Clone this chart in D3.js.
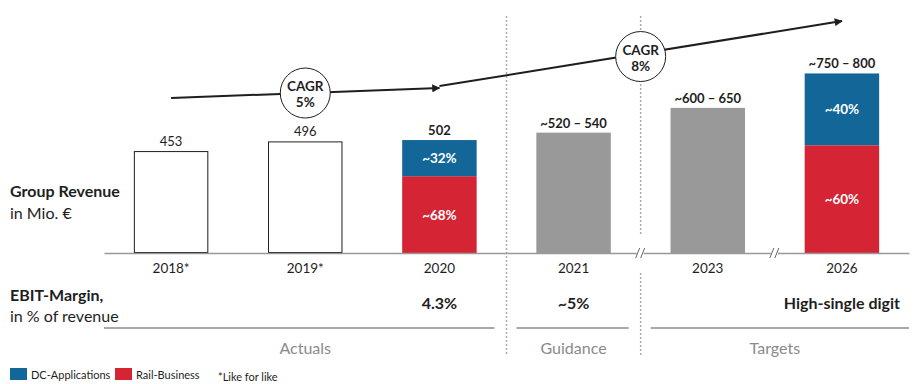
<!DOCTYPE html>
<html>
<head>
<meta charset="utf-8">
<script src="https://cdn.jsdelivr.net/npm/d3@7"></script>
<style>
  body { margin: 0; background: #fff; }
  svg { display: block; font-family: Lato, "Open Sans", sans-serif; }
</style>
</head>
<body>
<svg id="chart" width="915" height="384"></svg>
<script>
// data
var categories  = [ '2018*', '2019*', '2020', '2021', '2023', '2026' ];
var totals      = [ 453, 496, 502, 535, 645, 798 ];
var totalLabels = [ '453', '496', '502', '~520 – 540', '~600 – 650', '~750 – 800' ];
var labelBold   = [ false, false, true, true, true, true ];
var barKind     = [ 'outline', 'outline', 'split', 'gray', 'gray', 'split' ];
var dcShare     = [ 0, 0, 0.32, 0, 0, 0.40 ];
var railShare   = [ 0, 0, 0.68, 0, 0, 0.60 ];
var ebitLabels  = [ '', '', '4.3%', '~5%', '', 'High-single digit' ];

var sections    = [ 'Actuals', 'Guidance', 'Targets' ];
var sectionFrom = [ 0, 3, 4 ];
var sectionTo   = [ 2, 3, 5 ];
var breakAfter  = [ 3, 4 ];          // axis break between this and next category

// trend arrows, in revenue units
var trendFrom   = [ [ '2018*', 689 ], [ '2020', 742 ] ];
var trendTo     = [ [ '2020', 733 ], [ '2026', 1031 ] ];
var cagrLabels  = [ '5%', '8%' ];
var cagrAt      = [ 1, 3.5 ];        // category position (index) of the circle

var colors = { dc: '#136798', rail: '#d52535', gray: '#999999', ink: '#1e1e1e', soft: '#8a8a8a' };

var svg = d3.select( '#chart' );

var x = d3.scaleBand()
	.domain( categories )
	.range( [ 104, 909 ] )
	.paddingInner( 0.445 )
	.paddingOuter( 0.2225 );

var y = d3.scaleLinear()
	.domain( [ 0, 1000 ] )
	.range( [ 253, 28 ] );

var cx = function( i ) { return x( categories[ i ] ) + x.bandwidth() / 2; };
var xAt = function( pos ) {
	var lo = Math.floor( pos ), hi = Math.ceil( pos );
	return cx( lo ) + ( cx( hi ) - cx( lo ) ) * ( pos - lo );
};
var sepX = function( i ) { return ( cx( i ) + cx( i + 1 ) ) / 2; };

// separators between actuals / guidance / targets
var seps = [ sepX( 2 ), sepX( 3 ) ];
seps.forEach( function( sx, k ) {
	var segs = k === 1 ? [ [ 16, 235 ], [ 273, 356 ] ] : [ [ 16, 356 ] ];
	segs.forEach( function( s ) {
		svg.append( 'line' )
			.attr( 'x1', sx ).attr( 'x2', sx )
			.attr( 'y1', s[ 0 ] ).attr( 'y2', s[ 1 ] )
			.attr( 'stroke', '#aaa' )
			.attr( 'stroke-width', 1.5 )
			.attr( 'stroke-dasharray', '2,2' );
	} );
} );

// bars
var bars = svg.append( 'g' );
categories.forEach( function( c, i ) {
	var x0 = x( c ), w = x.bandwidth();
	if ( barKind[ i ] === 'outline' ) {
		bars.append( 'rect' )
			.attr( 'x', x0 + 0.5 ).attr( 'y', y( totals[ i ] ) + 0.5 )
			.attr( 'width', w - 1 ).attr( 'height', y( 0 ) - y( totals[ i ] ) - 1 )
			.attr( 'fill', '#fff' ).attr( 'stroke', colors.ink ).attr( 'stroke-width', 1 );
	}
	else if ( barKind[ i ] === 'gray' ) {
		bars.append( 'rect' )
			.attr( 'x', x0 ).attr( 'y', y( totals[ i ] ) )
			.attr( 'width', w ).attr( 'height', y( 0 ) - y( totals[ i ] ) )
			.attr( 'fill', colors.gray );
	}
	else {
		var railTop = totals[ i ] * railShare[ i ];
		bars.append( 'rect' )
			.attr( 'x', x0 ).attr( 'y', y( railTop ) )
			.attr( 'width', w ).attr( 'height', y( 0 ) - y( railTop ) )
			.attr( 'fill', colors.rail );
		bars.append( 'rect' )
			.attr( 'x', x0 ).attr( 'y', y( totals[ i ] ) )
			.attr( 'width', w ).attr( 'height', y( railTop ) - y( totals[ i ] ) )
			.attr( 'fill', colors.dc );
		bars.append( 'text' )
			.attr( 'x', cx( i ) ).attr( 'y', ( y( railTop ) + y( totals[ i ] ) ) / 2 + 5 )
			.attr( 'text-anchor', 'middle' ).attr( 'fill', '#fff' )
			.attr( 'font-size', 13.5 ).attr( 'font-weight', 'bold' )
			.text( '~' + Math.round( dcShare[ i ] * 100 ) + '%' );
		bars.append( 'text' )
			.attr( 'x', cx( i ) ).attr( 'y', ( y( 0 ) + y( railTop ) ) / 2 + 5 )
			.attr( 'text-anchor', 'middle' ).attr( 'fill', '#fff' )
			.attr( 'font-size', 13.5 ).attr( 'font-weight', 'bold' )
			.text( '~' + Math.round( railShare[ i ] * 100 ) + '%' );
	}
	bars.append( 'text' )
		.attr( 'x', cx( i ) ).attr( 'y', y( totals[ i ] ) - 5 )
		.attr( 'text-anchor', 'middle' ).attr( 'fill', colors.ink )
		.attr( 'font-size', 13 ).attr( 'font-weight', labelBold[ i ] ? 'bold' : 'normal' )
		.text( totalLabels[ i ] );
} );

// category axis
var axis = svg.append( 'g' )
	.attr( 'transform', 'translate(0,' + y( 0 ) + ')' )
	.call( d3.axisBottom( x ).tickSize( 0 ).tickPadding( 10 ) );
axis.select( '.domain' ).attr( 'stroke', '#999' ).attr( 'stroke-width', 1.5 );
axis.selectAll( 'text' )
	.attr( 'font-family', 'Lato, sans-serif' ).attr( 'font-size', 13.5 ).attr( 'fill', colors.ink );

// axis breaks
breakAfter.forEach( function( i ) {
	var bx = sepX( i ), by = y( 0 );
	svg.append( 'rect' ).attr( 'x', bx - 4 ).attr( 'y', by - 2 ).attr( 'width', 7 ).attr( 'height', 4 ).attr( 'fill', '#fff' );
	[ -3, 2 ].forEach( function( dx ) {
		svg.append( 'line' )
			.attr( 'x1', bx + dx - 2 ).attr( 'y1', by + 5 )
			.attr( 'x2', bx + dx + 2 ).attr( 'y2', by - 5 )
			.attr( 'stroke', '#666' ).attr( 'stroke-width', 1 );
	} );
} );

// trend arrows with CAGR bubbles
svg.append( 'defs' ).append( 'marker' )
	.attr( 'id', 'arrow' )
	.attr( 'viewBox', '0 0 10 10' )
	.attr( 'refX', 9 ).attr( 'refY', 5 )
	.attr( 'markerWidth', 4.5 ).attr( 'markerHeight', 4 )
	.attr( 'orient', 'auto' )
	.append( 'path' ).attr( 'd', 'M0,0 L10,5 L0,10 Z' ).attr( 'fill', colors.ink );

var trendPts = trendFrom.map( function( f, k ) {
	var t = trendTo[ k ];
	return [ [ cx( categories.indexOf( f[ 0 ] ) ), y( f[ 1 ] ) ], [ cx( categories.indexOf( t[ 0 ] ) ), y( t[ 1 ] ) ] ];
} );
trendPts.forEach( function( p ) {
	svg.append( 'line' )
		.attr( 'x1', p[ 0 ][ 0 ] ).attr( 'y1', p[ 0 ][ 1 ] )
		.attr( 'x2', p[ 1 ][ 0 ] ).attr( 'y2', p[ 1 ][ 1 ] )
		.attr( 'stroke', colors.ink ).attr( 'stroke-width', 2 )
		.attr( 'marker-end', 'url(#arrow)' );
} );

cagrLabels.forEach( function( lbl, k ) {
	var p = trendPts[ k ], bx = xAt( cagrAt[ k ] );
	var by = p[ 0 ][ 1 ] + ( p[ 1 ][ 1 ] - p[ 0 ][ 1 ] ) * ( bx - p[ 0 ][ 0 ] ) / ( p[ 1 ][ 0 ] - p[ 0 ][ 0 ] ) + ( k ? 3 : 0 );
	svg.append( 'circle' )
		.attr( 'cx', bx ).attr( 'cy', by ).attr( 'r', 25 )
		.attr( 'fill', '#fff' ).attr( 'stroke', colors.ink ).attr( 'stroke-width', 1 );
	svg.append( 'text' )
		.attr( 'x', bx ).attr( 'y', by - 2 )
		.attr( 'text-anchor', 'middle' ).attr( 'font-size', 13.5 ).attr( 'font-weight', 'bold' ).attr( 'fill', colors.ink )
		.text( 'CAGR' );
	svg.append( 'text' )
		.attr( 'x', bx ).attr( 'y', by + 14 )
		.attr( 'text-anchor', 'middle' ).attr( 'font-size', 13.5 ).attr( 'font-weight', 'bold' ).attr( 'fill', colors.ink )
		.text( lbl );
} );

// row titles
var rowTitle = function( yy, bold, txt ) {
	svg.append( 'text' )
		.attr( 'x', 10 ).attr( 'y', yy )
		.attr( 'font-size', 16 ).attr( 'font-weight', bold ? 'bold' : 'normal' ).attr( 'fill', colors.ink )
		.text( txt );
};
rowTitle( 197, true, 'Group Revenue' );
rowTitle( 219, false, 'in Mio. €' );
rowTitle( 301, true, 'EBIT-Margin,' );
rowTitle( 322, false, 'in % of revenue' );

// EBIT row
ebitLabels.forEach( function( t, i ) {
	if ( !t ) return;
	svg.append( 'text' )
		.attr( 'x', cx( i ) ).attr( 'y', 309 )
		.attr( 'text-anchor', 'middle' ).attr( 'font-size', 16 ).attr( 'font-weight', 'bold' ).attr( 'fill', colors.ink )
		.text( t );
} );

// section underlines and names
var bounds = [ x.range()[ 0 ], seps[ 0 ], seps[ 1 ], x.range()[ 1 ] ];
sections.forEach( function( s, k ) {
	var x1 = k === 0 ? bounds[ 0 ] : bounds[ k ] + 10;
	var x2 = k === sections.length - 1 ? bounds[ k + 1 ] : bounds[ k + 1 ] - 12;
	svg.append( 'line' )
		.attr( 'x1', x1 ).attr( 'x2', x2 ).attr( 'y1', 328 ).attr( 'y2', 328 )
		.attr( 'stroke', '#555' ).attr( 'stroke-width', 1.2 );
	var mid = ( xAt( sectionFrom[ k ] ) + xAt( sectionTo[ k ] ) ) / 2;
	svg.append( 'text' )
		.attr( 'x', mid ).attr( 'y', 354 )
		.attr( 'text-anchor', 'middle' ).attr( 'font-size', 16 ).attr( 'fill', colors.soft )
		.text( s );
} );

// legend
var legend = [ [ 'DC-Applications', colors.dc, 10 ], [ 'Rail-Business', colors.rail, 115 ] ];
legend.forEach( function( l ) {
	svg.append( 'rect' ).attr( 'x', l[ 2 ] ).attr( 'y', 368 ).attr( 'width', 17 ).attr( 'height', 12 ).attr( 'fill', l[ 1 ] );
	svg.append( 'text' ).attr( 'x', l[ 2 ] + 21 ).attr( 'y', 379 )
		.attr( 'font-size', 11 ).attr( 'fill', colors.ink ).text( l[ 0 ] );
} );
svg.append( 'text' ).attr( 'x', 218 ).attr( 'y', 381 )
	.attr( 'font-size', 11 ).attr( 'fill', colors.ink ).text( '*Like for like' );
</script>
</body>
</html>
